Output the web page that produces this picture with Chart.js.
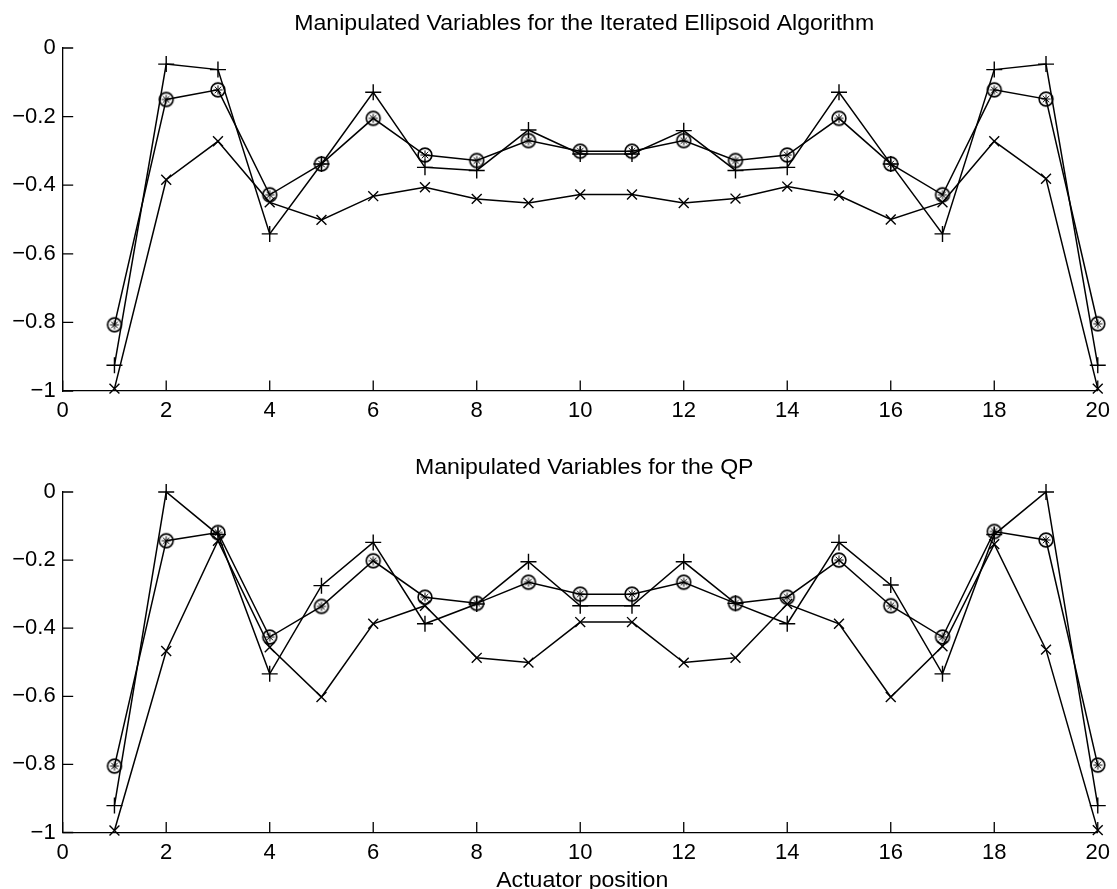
<!DOCTYPE html>
<html>
<head>
<meta charset="utf-8">
<script src="https://cdn.jsdelivr.net/npm/chart.js"></script>
<style>
  body { margin: 0; background: #fff; }
  .panel { position: absolute; left: 0; width: 1117px; }
  #topPanel { top: 0; height: 444px; }
  #botPanel { top: 444px; height: 445px; }
</style>
</head>
<body>
<div class="panel" id="topPanel"><canvas id="topChart"></canvas></div>
<div class="panel" id="botPanel"><canvas id="botChart"></canvas></div>
<script>
// Actuator positions and axis ticks
const positions = [1, 2, 3, 4, 5, 6, 7, 8, 9, 10, 11, 12, 13, 14, 15, 16, 17, 18, 19, 20];
const xTicks = [0, 2, 4, 6, 8, 10, 12, 14, 16, 18, 20];
const yTicks = [0, -0.2, -0.4, -0.6, -0.8, -1];

// Iterated ellipsoid algorithm
const ellPlus = [-0.925, -0.047, -0.063, -0.542, -0.338, -0.129, -0.348, -0.357, -0.239, -0.309,
                 -0.309, -0.241, -0.357, -0.348, -0.129, -0.338, -0.542, -0.063, -0.047, -0.925];
const ellStar = [-0.807, -0.150, -0.122, -0.428, -0.338, -0.205, -0.312, -0.328, -0.270, -0.301,
                 -0.301, -0.270, -0.328, -0.312, -0.205, -0.338, -0.428, -0.122, -0.149, -0.804];
const ellCross = [-0.993, -0.384, -0.272, -0.450, -0.501, -0.432, -0.406, -0.440, -0.452, -0.427,
                  -0.427, -0.452, -0.439, -0.404, -0.430, -0.500, -0.450, -0.272, -0.381, -0.993];

// QP
const qpPlus = [-0.921, 0.0, -0.125, -0.534, -0.275, -0.148, -0.387, -0.329, -0.205, -0.334,
                -0.334, -0.205, -0.327, -0.387, -0.148, -0.273, -0.534, -0.125, 0.0, -0.921];
const qpStar = [-0.805, -0.143, -0.119, -0.426, -0.336, -0.202, -0.309, -0.327, -0.265, -0.300,
                -0.300, -0.265, -0.327, -0.309, -0.200, -0.334, -0.426, -0.116, -0.141, -0.802];
const qpCross = [-0.994, -0.467, -0.143, -0.456, -0.602, -0.387, -0.334, -0.487, -0.501, -0.382,
                 -0.382, -0.501, -0.487, -0.329, -0.387, -0.602, -0.453, -0.153, -0.463, -0.993];

const FONT = '"Liberation Sans", Arial, Helvetica, sans-serif';

// circle with an asterisk inside (matlab 'o' + '*')
function starCircle() {
    const c = document.createElement('canvas');
    c.width = 18; c.height = 18;
    const g = c.getContext('2d');
    g.strokeStyle = '#000';
    g.lineWidth = 1.6;
    g.beginPath();
    g.arc(9, 9, 6.9, 0, Math.PI * 2);
    g.stroke();
    g.lineWidth = 1;
    for (let k = 0; k < 4; k++) {
        const a = k * Math.PI / 4;
        g.beginPath();
        g.moveTo(9 - Math.cos(a) * 4.6, 9 - Math.sin(a) * 4.6);
        g.lineTo(9 + Math.cos(a) * 4.6, 9 + Math.sin(a) * 4.6);
        g.stroke();
    }
    return c;
}
const starMarker = starCircle();

function points(ys) {
    return positions.map((x, i) => ({ x: x, y: ys[i] }));
}

function series(ys, style, radius) {
    return {
        data: points(ys),
        borderColor: '#000',
        backgroundColor: 'rgba(0,0,0,0)',
        borderWidth: 1.5,
        pointStyle: style,
        pointRadius: radius,
        pointBorderColor: '#000',
        pointBorderWidth: 1.4,
        tension: 0,
        fill: false,
        clip: false
    };
}

// inward tick marks, title and x label drawn by hand
const decor = {
    id: 'decor',
    beforeDatasetsDraw(chart) {
        const ctx = chart.ctx;
        const xs = chart.scales.x, ys = chart.scales.y;
        const a = chart.chartArea;
        ctx.save();
        ctx.strokeStyle = '#000';
        ctx.lineWidth = 1.3;
        ctx.beginPath();
        xs.ticks.forEach(t => {
            const px = xs.getPixelForValue(t.value);
            ctx.moveTo(px, a.bottom);
            ctx.lineTo(px, a.bottom - 10.5);
        });
        ys.ticks.forEach(t => {
            const py = ys.getPixelForValue(t.value);
            ctx.moveTo(a.left, py);
            ctx.lineTo(a.left + 10.5, py);
        });
        ctx.stroke();
        ctx.restore();
    },
    afterDraw(chart) {
        const o = chart.options.plugins.decor;
        const ctx = chart.ctx;
        const a = chart.chartArea;
        const cx = (a.left + a.right) / 2 + 4;
        ctx.save();
        ctx.fillStyle = '#000';
        ctx.textAlign = 'center';
        ctx.textBaseline = 'alphabetic';
        ctx.font = '22px ' + FONT;
        // the scanned text is a little wider than the font
        ctx.save();
        ctx.translate(cx, 29.5);
        ctx.scale(1.05, 1);
        ctx.fillText(o.title, 0, 0);
        ctx.restore();
        if (o.xlabel) {
            ctx.translate(cx - 2, chart.height - 2.3);
            ctx.scale(1.05, 1);
            ctx.fillText(o.xlabel, 0, 0);
        }
        ctx.restore();
    }
};

function makeChart(id, sets, title, xlabel, xHeight) {
    return new Chart(document.getElementById(id), {
        type: 'line',
        data: {
            datasets: [
                series(sets[0], 'cross', 8),
                series(sets[1], starMarker, 7),
                series(sets[2], 'crossRot', 7)
            ]
        },
        options: {
            responsive: true,
            maintainAspectRatio: false,
            animation: false,
            events: [],
            layout: { padding: { top: 48, left: 0, right: 16.5, bottom: 0 }, autoPadding: false },
            plugins: {
                legend: { display: false },
                tooltip: { enabled: false },
                decor: { title: title, xlabel: xlabel }
            },
            scales: {
                x: {
                    type: 'linear',
                    min: 0,
                    max: 20,
                    afterBuildTicks: s => { s.ticks = xTicks.map(v => ({ value: v })); },
                    afterFit: s => { s.height = xHeight; },
                    grid: { display: true, drawOnChartArea: false, drawTicks: false },
                    border: { display: true, color: '#000', width: 1.3 },
                    ticks: {
                        color: '#000',
                        padding: 7,
                        maxRotation: 0,
                        font: { family: FONT, size: 22 },
                        callback: v => String(v)
                    }
                },
                y: {
                    type: 'linear',
                    min: -1,
                    max: 0,
                    afterBuildTicks: s => { s.ticks = yTicks.map(v => ({ value: v })); },
                    afterFit: s => { s.width = 62.7; },
                    grid: { display: true, drawOnChartArea: false, drawTicks: false },
                    border: { display: true, color: '#000', width: 1.3 },
                    ticks: {
                        color: '#000',
                        padding: 7,
                        font: { family: FONT, size: 22 },
                        callback: v => v === 0 ? '0' : '\u2212' + String(Math.round(Math.abs(v) * 10) / 10)
                    }
                }
            }
        },
        plugins: [decor]
    });
}

makeChart('topChart', [ellPlus, ellStar, ellCross],
    'Manipulated Variables for the Iterated Ellipsoid Algorithm', null, 53);
makeChart('botChart', [qpPlus, qpStar, qpCross],
    'Manipulated Variables for the QP', 'Actuator position', 56.5);
</script>
</body>
</html>
